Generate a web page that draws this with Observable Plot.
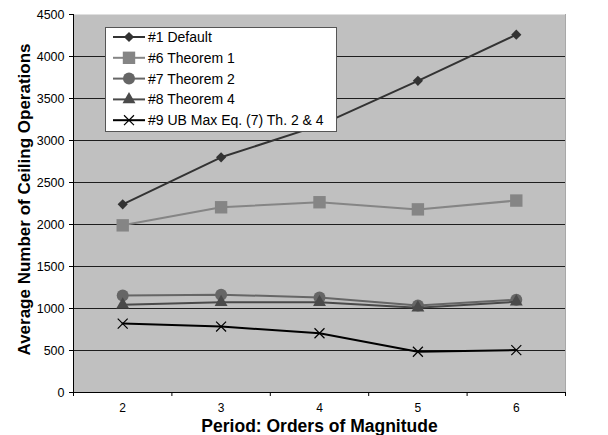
<!DOCTYPE html>
<html>
<head>
<meta charset="utf-8">
<script src="https://cdn.jsdelivr.net/npm/d3@7"></script>
<script src="https://cdn.jsdelivr.net/npm/@observablehq/plot@0.6"></script>
<style>
  html, body { margin: 0; padding: 0; background: #fff; }
  #wrap { position: relative; width: 608px; height: 435px; font-family: "Liberation Sans", Arial, sans-serif; }
  #legend { position: absolute; left: 0; top: 0; pointer-events: none; }
</style>
</head>
<body>
<div id="wrap"></div>
<script>
// ---- data ----
const categories = [2, 3, 4, 5, 6];
const seriesNames = ["#1 Default", "#6 Theorem 1", "#7 Theorem 2", "#8 Theorem 4", "#9 UB Max Eq. (7) Th. 2 & 4"];
const s1 = [2240, 2800, 3180, 3710, 4260];
const s6 = [1990, 2205, 2265, 2180, 2285];
const s7 = [1155, 1165, 1130, 1035, 1105];
const s8 = [1045, 1075, 1075, 1010, 1080];
const s9 = [820, 785, 705, 485, 505];
const yTicks = [0, 500, 1000, 1500, 2000, 2500, 3000, 3500, 4000, 4500];
const xTitle = "Period: Orders of Magnitude";
const yTitle = "Average Number of Ceiling Operations";

// ---- styles ----
const styles = [
  {stroke: "#333333", fill: "#333333", symbol: "diamond2", r: 4.6},
  {stroke: "#858585", fill: "#858585", symbol: "square", r: 7},
  {stroke: "#666666", fill: "#666666", symbol: "circle", r: 6},
  {stroke: "#4a4a4a", fill: "#4a4a4a", symbol: "triangle", r: 4.8},
  {stroke: "#000000", fill: "none", symbol: "times", r: 4.6}
];
const allValues = [s1, s6, s7, s8, s9];
const table = allValues.map((vals, i) => categories.map((c, j) => ({x: c, y: vals[j], series: seriesNames[i]})));
const boundaries = [...categories.map(c => c - 0.5), categories[categories.length - 1] + 0.5];
const font = '"Liberation Sans", Arial, sans-serif';

const marks = [
  Plot.frame({fill: "#c0c0c0", stroke: null}),
  Plot.ruleY(yTicks.filter(d => d > 0 && d < 4500), {stroke: "#1e1e1e", strokeWidth: 1}),
  Plot.ruleX([boundaries[boundaries.length - 1]], {stroke: "#a8a8a8", strokeWidth: 1}),
  Plot.ruleX([boundaries[0]], {stroke: "#000", strokeWidth: 1}),
  Plot.ruleY([0], {stroke: "#000", strokeWidth: 1}),
  Plot.axisY(yTicks, {tickSize: 4, tickPadding: 5, fontSize: 12.5, fill: "#000", stroke: "#000", label: null, tickFormat: d => String(d)}),
  Plot.axisX(boundaries, {tickSize: 4, tickFormat: () => "", stroke: "#000", label: null}),
  Plot.axisX(categories, {tickSize: 0, tickPadding: 11, fontSize: 12, fill: "#000", label: null, tickFormat: d => String(d)})
];
table.forEach((data, i) => {
  const st = styles[i];
  marks.push(Plot.line(data, {x: "x", y: "y", stroke: st.stroke, strokeWidth: 2}));
  marks.push(Plot.dot(data, {x: "x", y: "y", symbol: () => st.symbol, r: st.r,
    fill: st.fill === "none" ? "none" : st.fill,
    stroke: st.fill === "none" ? st.stroke : "none", strokeWidth: 1.2}));
});
marks.push(Plot.text([xTitle], {frameAnchor: "bottom", dy: 39, lineAnchor: "bottom", textAnchor: "middle", fontSize: 17.5, fontWeight: "bold", fill: "#000"}));
marks.push(Plot.text([yTitle], {frameAnchor: "left", dx: -49, dy: -4, rotate: -90, lineAnchor: "middle", textAnchor: "middle", fontSize: 17, fontWeight: "bold", fill: "#000"}));

const chart = Plot.plot({
  width: 608,
  height: 435,
  marginLeft: 73,
  marginRight: 43,
  marginTop: 14,
  marginBottom: 43,
  style: {fontFamily: font, background: "transparent", overflow: "visible"},
  x: {type: "linear", domain: [boundaries[0], boundaries[boundaries.length - 1]], axis: null},
  y: {domain: [0, 4500], axis: null},
  marks
});
const wrap = document.getElementById("wrap");
wrap.appendChild(chart);

// ---- legend overlay ----
const lg = d3.select(wrap).append("svg").attr("id", "legend").attr("width", 608).attr("height", 435);
const box = {x: 105.5, y: 27.5, w: 231, h: 104};
lg.append("rect").attr("x", box.x).attr("y", box.y).attr("width", box.w).attr("height", box.h)
  .attr("fill", "#fff").attr("stroke", "#555").attr("stroke-width", 1);
const symMap = {diamond2: d3.symbolDiamond2, square: d3.symbolSquare, circle: d3.symbolCircle, triangle: d3.symbolTriangle, times: d3.symbolTimes};
seriesNames.forEach((name, i) => {
  const st = styles[i];
  const cy = 37 + i * 20.8;
  const g = lg.append("g");
  g.append("line").attr("x1", 113).attr("x2", 145).attr("y1", cy).attr("y2", cy)
    .attr("stroke", st.stroke).attr("stroke-width", 2);
  g.append("path").attr("transform", `translate(129,${cy})`)
    .attr("d", d3.symbol(symMap[st.symbol], Math.PI * st.r * st.r)())
    .attr("fill", st.fill).attr("stroke", st.fill === "none" ? st.stroke : "none").attr("stroke-width", 1.2);
  g.append("text").attr("x", 148).attr("y", cy).attr("dy", "0.35em")
    .attr("font-size", 14).attr("font-family", font).attr("fill", "#000").text(name);
});
</script>
</body>
</html>
